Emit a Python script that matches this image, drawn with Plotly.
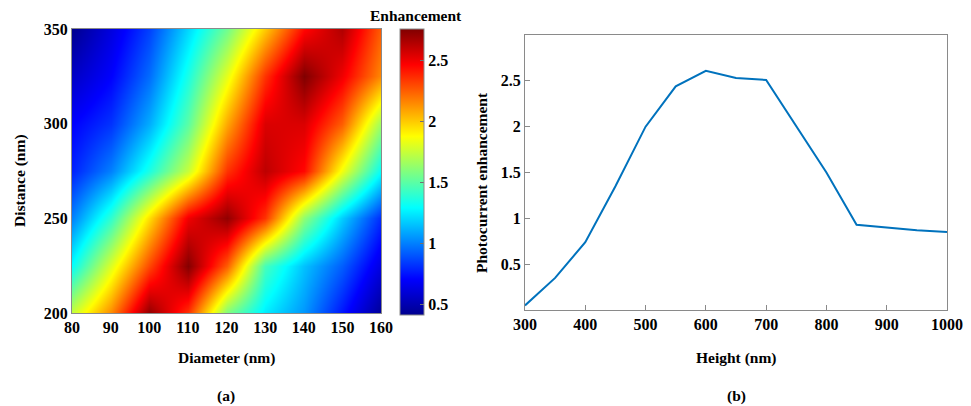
import plotly.graph_objects as go

# ---------------- data ----------------
diameter = [80, 90, 100, 110, 120, 130, 140, 150, 160]
distance = [200, 225, 250, 275, 300, 325, 350]
enhancement = [
    [1.75, 2.15, 2.72, 2.35, 1.58, 1.25, 1.05, 0.75, 0.43],  # 200
    [1.30, 1.80, 2.30, 2.75, 2.25, 1.45, 1.15, 0.92, 0.62],  # 225
    [1.00, 1.40, 1.95, 2.50, 2.72, 2.35, 1.62, 1.18, 0.80],  # 250
    [0.78, 1.00, 1.35, 1.75, 2.35, 2.62, 2.45, 1.85, 1.30],  # 275
    [0.70, 0.82, 1.10, 1.50, 2.08, 2.55, 2.55, 2.25, 1.65],  # 300
    [0.55, 0.70, 0.95, 1.35, 1.82, 2.35, 2.76, 2.50, 2.15],  # 325
    [0.41, 0.62, 0.85, 1.20, 1.55, 2.00, 2.45, 2.65, 2.25],  # 350
]
height = [300, 350, 400, 450, 500, 550, 600, 650, 700, 750, 800, 850, 900, 950, 1000]
photocurrent = [0.05, 0.35, 0.74, 1.35, 2.00, 2.44, 2.61, 2.53, 2.51, 2.01, 1.50, 0.93, 0.90, 0.87, 0.85]
cbar_ticks = [0.5, 1, 1.5, 2, 2.5]
x1_ticks = [80, 90, 100, 110, 120, 130, 140, 150, 160]
y1_ticks = [200, 250, 300, 350]
x2_ticks = [300, 400, 500, 600, 700, 800, 900, 1000]
y2_ticks = [0.5, 1, 1.5, 2, 2.5]

W, H = 971, 406
FONT = "'Liberation Serif', 'Times New Roman', 'DejaVu Serif', serif"

jet = [
    [0.0, "rgb(0,0,143)"],
    [0.125, "rgb(0,0,255)"],
    [0.375, "rgb(0,255,255)"],
    [0.625, "rgb(255,255,0)"],
    [0.875, "rgb(255,0,0)"],
    [1.0, "rgb(128,0,0)"],
]

def px_x(p):
    return p / W

def px_y(p):
    return 1 - p / H

fig = go.Figure()

fig.add_trace(go.Heatmap(
    x=diameter, y=distance, z=enhancement,
    colorscale=jet, zmin=0.41, zmax=2.76, zsmooth="best",
    xaxis="x", yaxis="y",
    colorbar=dict(
        x=px_x(400), xanchor="left", xpad=0,
        y=px_y(172), yanchor="middle", ypad=0,
        len=286 / H, lenmode="fraction",
        thickness=24, thicknessmode="pixels",
        outlinewidth=1, outlinecolor="#8a8a8a",
        tickvals=cbar_ticks,
        ticks="inside", ticklen=4, tickcolor="#707070",
        tickfont=dict(family=FONT, size=16, color="black", weight="bold"),
    ),
))

fig.add_trace(go.Scatter(
    x=height, y=photocurrent, mode="lines",
    line=dict(color="#0072BD", width=2),
    xaxis="x2", yaxis="y2", showlegend=False,
))

tickfont = dict(family=FONT, size=16, color="black", weight="bold")
axis_common = dict(showgrid=False, zeroline=False, showline=True,
                   linecolor="#8a8a8a", linewidth=1, mirror=True,
                   automargin=False, tickfont=tickfont)

fig.update_layout(
    template="none",
    width=W, height=H,
    margin=dict(l=0, r=0, t=0, b=0, pad=0, autoexpand=False),
    paper_bgcolor="white", plot_bgcolor="white",
    showlegend=False,
    xaxis=dict(domain=[px_x(72), px_x(381)], range=[80, 160], tickvals=x1_ticks,
               ticks="", anchor="y", **axis_common),
    yaxis=dict(domain=[px_y(313), px_y(29)], range=[200, 350], tickvals=y1_ticks,
               ticks="", anchor="x", **axis_common),
    xaxis2=dict(domain=[px_x(525), px_x(947)], range=[300, 1000], tickvals=x2_ticks,
                ticks="inside", ticklen=5, tickcolor="#8a8a8a", anchor="y2", **axis_common),
    yaxis2=dict(domain=[px_y(310), px_y(35)], range=[0, 3], tickvals=y2_ticks,
                ticks="inside", ticklen=5, tickcolor="#8a8a8a", anchor="x2", **axis_common),
)

titlefont = dict(family=FONT, size=15.5, color="black", weight="bold")
annos = [
    dict(text="Enhancement", x=px_x(416), y=px_y(16)),
    dict(text="Distance (nm)", x=px_x(20), y=px_y(181), textangle=-90),
    dict(text="Diameter (nm)", x=px_x(226), y=px_y(358)),
    dict(text="(a)", x=px_x(226), y=px_y(396)),
    dict(text="Photocurrent enhancement", x=px_x(481), y=px_y(183), textangle=-90),
    dict(text="Height (nm)", x=px_x(736), y=px_y(358)),
    dict(text="(b)", x=px_x(736), y=px_y(396)),
]
for a in annos:
    fig.add_annotation(xref="paper", yref="paper", showarrow=False,
                       xanchor="center", yanchor="middle", font=titlefont, **a)

fig.write_html("out.html")
